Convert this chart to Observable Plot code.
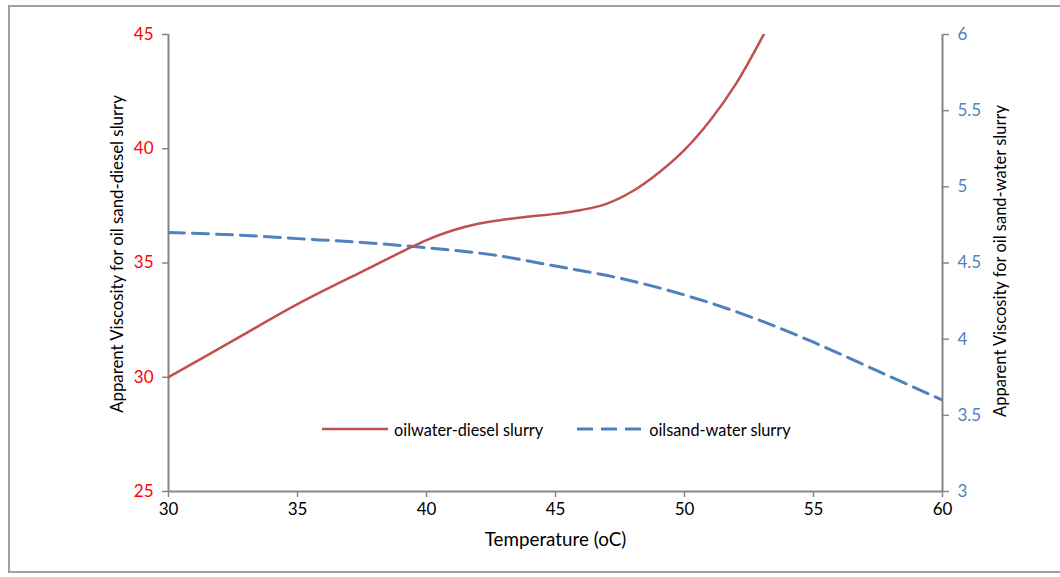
<!DOCTYPE html>
<html>
<head>
<meta charset="utf-8">
<script src="https://cdn.jsdelivr.net/npm/d3@7"></script>
<script src="https://cdn.jsdelivr.net/npm/@observablehq/plot@0.6"></script>
<style>
  html, body { margin: 0; padding: 0; background: #fff; }
  #wrap { position: relative; width: 1060px; height: 577px; font-family: Lato, "Open Sans", sans-serif; }
  #border { position: absolute; left: 8px; top: 5px; width: 1100px; height: 568px; border: 2px solid #a0a0a0; box-sizing: border-box; }
  #legend { position: absolute; top: 419px; left: 322px; font-size: 16.3px; color: #000; display: flex; align-items: center; white-space: nowrap; }
  #legend svg { display: block; }
</style>
</head>
<body>
<div id="wrap">
  <div id="border"></div>
  <div id="chart"></div>
  <div id="legend"></div>
</div>
<script>
// Data
const redTemps = [30, 32.5, 35, 37.5, 40, 41, 42, 43, 44, 45, 46, 47, 48, 49, 50, 51, 52, 53, 54];
const redValues = [30, 31.6, 33.2, 34.62, 36.0, 36.42, 36.72, 36.9, 37.03, 37.15, 37.32, 37.6, 38.15, 38.95, 39.95, 41.25, 42.85, 44.85, 47.1];
const blueTemps = [30, 32.5, 35, 37.5, 40, 42.5, 45, 47.5, 50, 52.5, 55, 57.5, 60];
const blueValues = [4.70, 4.685, 4.66, 4.635, 4.60, 4.555, 4.48, 4.40, 4.29, 4.15, 3.98, 3.79, 3.60];
const xTicks = [30, 35, 40, 45, 50, 55, 60];
const leftTicks = [25, 30, 35, 40, 45];
const rightTicks = [3, 3.5, 4, 4.5, 5, 5.5, 6];
const seriesNames = ["oilwater-diesel slurry", "oilsand-water slurry"];
const xTitle = "Temperature (oC)";
const leftTitle = "Apparent Viscosity for oil sand-diesel slurry";
const rightTitle = "Apparent Viscosity for oil sand-water slurry";

const RED = "#c0504d", BLUE = "#4f81bd", GRAY = "#868686";
const leftDomain = [25, 45], rightDomain = [3, 6];
const toLeft = v => leftDomain[0] + (v - rightDomain[0]) * (leftDomain[1] - leftDomain[0]) / (rightDomain[1] - rightDomain[0]);
const fromLeft = v => rightDomain[0] + (v - leftDomain[0]) * (rightDomain[1] - rightDomain[0]) / (leftDomain[1] - leftDomain[0]);

const red = redTemps.map((t, i) => ({t, v: redValues[i]}));
const blue = blueTemps.map((t, i) => ({t, v: toLeft(blueValues[i])}));

const chart = Plot.plot({
  width: 1060, height: 577,
  marginLeft: 168, marginRight: 118, marginTop: 34, marginBottom: 86,
  style: {fontFamily: "Lato, 'Open Sans', sans-serif", fontSize: "17px", background: "transparent", overflow: "visible"},
  x: {domain: [30, 60]},
  y: {domain: leftDomain},
  marks: [
    Plot.axisX(xTicks, {tickSize: 6, stroke: GRAY, strokeWidth: 1.5, fill: "#000", tickPadding: 5, label: null, fontSize: 17}),
    Plot.axisY(leftTicks, {anchor: "left", tickSize: 6, stroke: GRAY, strokeWidth: 1.5, fill: "#ff0000", tickPadding: 9, label: null, fontSize: 17}),
    Plot.axisY(rightTicks.map(toLeft), {anchor: "right", tickSize: 6, stroke: GRAY, strokeWidth: 1.5, fill: BLUE, tickPadding: 9, label: null, fontSize: 17, tickFormat: d => d3.format("~g")(+fromLeft(d).toFixed(2))}),
    Plot.ruleX([30, 60], {stroke: GRAY, strokeWidth: 2}),
    Plot.ruleY([25], {stroke: GRAY, strokeWidth: 2}),
    Plot.line(blue, {x: "t", y: "v", stroke: BLUE, strokeWidth: 3, strokeDasharray: "16,8", curve: "catmull-rom", clip: true}),
    Plot.line(red, {x: "t", y: "v", stroke: RED, strokeWidth: 2.5, curve: "catmull-rom", clip: true}),
    Plot.text([xTitle], {frameAnchor: "bottom", dy: 54, fill: "#000", fontSize: 18.8}),
    Plot.text([leftTitle], {frameAnchor: "left", textAnchor: "middle", dx: -51, dy: -9, rotate: -90, fill: "#000", fontSize: 16.8}),
    Plot.text([rightTitle], {frameAnchor: "right", textAnchor: "middle", dx: 58, dy: -2, rotate: -90, fill: "#000", fontSize: 16.5})
  ]
});
document.getElementById("chart").appendChild(chart);

// Legend inside the plot area
const legend = document.getElementById("legend");
const styles = [{color: RED, dash: null, w: 2.5}, {color: BLUE, dash: "16,8", w: 3}];
seriesNames.forEach((name, i) => {
  const s = styles[i];
  const sw = d3.create("svg").attr("width", 66).attr("height", 20).style("margin-right", "6px");
  sw.append("line").attr("x1", 0).attr("x2", 66).attr("y1", 10).attr("y2", 10)
    .attr("stroke", s.color).attr("stroke-width", s.w).attr("stroke-dasharray", s.dash);
  legend.appendChild(sw.node());
  const span = document.createElement("span");
  span.textContent = name;
  span.style.marginRight = i === 0 ? "34px" : "0";
  legend.appendChild(span);
});
</script>
</body>
</html>
